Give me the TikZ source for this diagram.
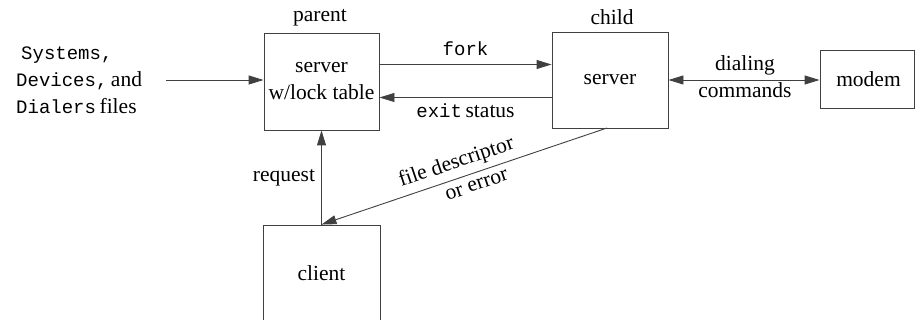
\documentclass[tikz,border=0pt]{standalone}
\usepackage{fontspec}
\setmainfont{Liberation Serif}
\setmonofont{Liberation Mono}
\usetikzlibrary{arrows.meta}
\newcommand\mymono[1]{{\fontsize{19}{27}\selectfont\ttfamily #1}}
\begin{document}
\begin{tikzpicture}[x=1pt,y=-1pt,
  every node/.style={font=\fontsize{21.5}{27}\selectfont, inner sep=0pt},
  box/.style={draw=black!75, line width=0.9pt, align=center},
  conn/.style={draw=black!75, line width=0.9pt},
  tip/.style={-{Triangle[length=15pt,width=9pt]}},
  lbl/.style={align=center}]
\useasboundingbox (0,0) rectangle (915,320);
% boxes
\node[box, minimum width=115pt, minimum height=97pt] (par) at (321.5,81.5) {server\\w/lock table};
\node[box, minimum width=116pt, minimum height=96pt] (chi) at (610,80) {server};
\node[box, minimum width=94pt, minimum height=58pt] (mod) at (867,79) {\hspace*{3pt}modem};
\node[box, minimum width=117pt, minimum height=97pt] (cli) at (321.5,273.5) {client};
% labels above boxes
\node (lpar) at (320,18) {parent};
\node (lchi) at (612,17) {child};
% input files
\node[lbl, align=left, anchor=west] (files) at (16,80) {\hspace*{5pt}\mymono{Systems,}\\\mymono{Devices,}\,and\\\mymono{Dialers}\,files};
\coordinate (fin) at (166,80);
\draw[conn,tip] (fin) -- (par.west |- fin);
% fork and exit status
\coordinate (yfork) at (0,64.5);
\coordinate (yexit) at (0,97.5);
\draw[conn,tip] (par.east |- yfork) -- (chi.west |- yfork) node[midway, above=8pt] (lfork) {\mymono{fork}};
\draw[conn,tip] (chi.west |- yexit) -- (par.east |- yexit) node[midway, below=6pt] (lexit) {\mymono{exit}\,status};
% dialing commands
\draw[conn,{Triangle[length=15pt,width=9pt]}-{Triangle[length=15pt,width=9pt]}] (chi.east) -- (mod.west |- chi.east);
\node[lbl] (ldial) at (745,77) {dialing\\commands};
% request
\draw[conn,tip] (cli.north) -- (par.south) node[midway, left=6pt] (lreq) {request};
% file descriptor
\coordinate (cfd) at (607,128);
\draw[conn,tip] (cfd) -- (cli.north)
  node[pos=0.51, sloped, above=5pt] (lfd) {file descriptor}
  node[pos=0.47, sloped, below=7pt] (lerr) {or error};
\end{tikzpicture}
\end{document}
